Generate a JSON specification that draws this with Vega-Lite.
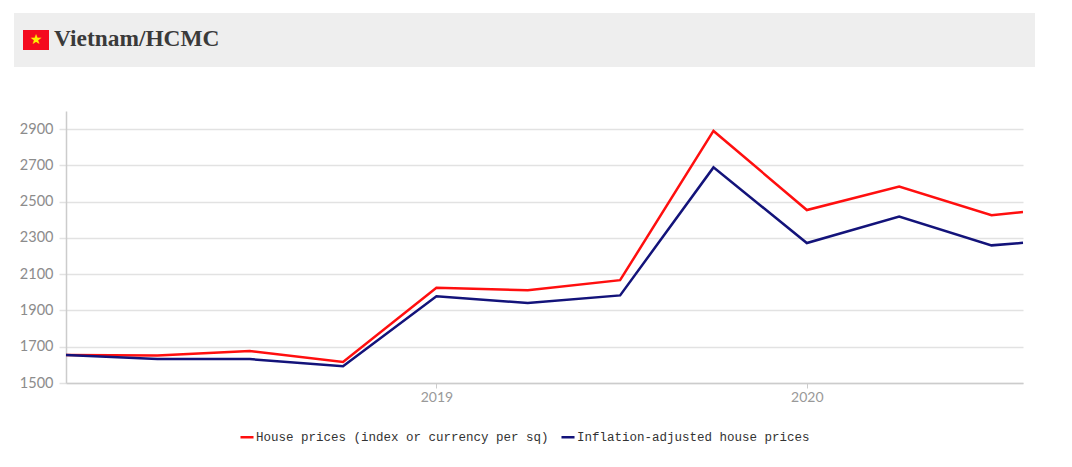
{
  "$schema": "https://vega.github.io/schema/vega-lite/v6.json",
  "width": 957,
  "height": 272,
  "autosize": {"type": "none"},
  "padding": {"left": 66, "top": 111, "right": 49, "bottom": 84},
  "background": "#ffffff",
  "config": {"view": {"stroke": null}},
  "title": {
    "text": "Vietnam/HCMC",
    "anchor": "start",
    "frame": "group",
    "orient": "top",
    "offset": 0,
    "dy": 38,
    "dx": -12,
    "font": "Liberation Serif",
    "fontSize": 23.4,
    "fontWeight": "bold",
    "color": "#3a3a3a"
  },
  "layer": [
    {
      "data": {"values": [{"part": "header"}]},
      "mark": {"type": "rect", "color": "#eeeeee", "x": -52, "x2": 969, "y": -98, "y2": -44}
    },
    {
      "data": {"values": [{"part": "flag"}]},
      "mark": {"type": "rect", "color": "#f40a1e", "x": -43, "x2": -17, "y": -81, "y2": -61}
    },
    {
      "data": {"values": [{"part": "star"}]},
      "mark": {"type": "text", "text": "★", "color": "#ffee00", "font": "DejaVu Sans", "fontSize": 14, "x": -30, "y": -71, "align": "center", "baseline": "middle"}
    },
    {
      "data": {
        "values": [
          {"date": "2018-01-01", "series": "House prices (index or currency per sq)", "price": 1654},
          {"date": "2018-04-01", "series": "House prices (index or currency per sq)", "price": 1652},
          {"date": "2018-07-01", "series": "House prices (index or currency per sq)", "price": 1676},
          {"date": "2018-10-01", "series": "House prices (index or currency per sq)", "price": 1616},
          {"date": "2019-01-01", "series": "House prices (index or currency per sq)", "price": 2025},
          {"date": "2019-04-01", "series": "House prices (index or currency per sq)", "price": 2012},
          {"date": "2019-07-01", "series": "House prices (index or currency per sq)", "price": 2067},
          {"date": "2019-10-01", "series": "House prices (index or currency per sq)", "price": 2890},
          {"date": "2020-01-01", "series": "House prices (index or currency per sq)", "price": 2454},
          {"date": "2020-04-01", "series": "House prices (index or currency per sq)", "price": 2584},
          {"date": "2020-07-01", "series": "House prices (index or currency per sq)", "price": 2425},
          {"date": "2020-08-01", "series": "House prices (index or currency per sq)", "price": 2443},
          {"date": "2018-01-01", "series": "Inflation-adjusted house prices", "price": 1654},
          {"date": "2018-04-01", "series": "Inflation-adjusted house prices", "price": 1632},
          {"date": "2018-07-01", "series": "Inflation-adjusted house prices", "price": 1632},
          {"date": "2018-10-01", "series": "Inflation-adjusted house prices", "price": 1592},
          {"date": "2019-01-01", "series": "Inflation-adjusted house prices", "price": 1978},
          {"date": "2019-04-01", "series": "Inflation-adjusted house prices", "price": 1941},
          {"date": "2019-07-01", "series": "Inflation-adjusted house prices", "price": 1983},
          {"date": "2019-10-01", "series": "Inflation-adjusted house prices", "price": 2689},
          {"date": "2020-01-01", "series": "Inflation-adjusted house prices", "price": 2272},
          {"date": "2020-04-01", "series": "Inflation-adjusted house prices", "price": 2418},
          {"date": "2020-07-01", "series": "Inflation-adjusted house prices", "price": 2259},
          {"date": "2020-08-01", "series": "Inflation-adjusted house prices", "price": 2273}
        ]
      },
      "mark": {"type": "line", "strokeWidth": 2.5, "interpolate": "linear"},
      "encoding": {
        "x": {
          "field": "date",
          "type": "temporal",
          "title": null,
          "scale": {"type": "utc", "domain": ["2018-01-01", "2020-08-01"]},
          "axis": {
            "values": [{"year": 2019, "month": 1, "date": 1, "utc": true}, {"year": 2020, "month": 1, "date": 1, "utc": true}],
            "format": "%Y",
            "formatType": "utc",
            "grid": false,
            "domainColor": "#cccccc",
            "domainWidth": 1.5,
            "tickColor": "#cccccc",
            "tickSize": 5,
            "labelFont": "Lato",
            "labelFontSize": 14,
            "labelColor": "#999999",
            "labelPadding": 2
          }
        },
        "y": {
          "field": "price",
          "type": "quantitative",
          "title": null,
          "scale": {"domain": [1500, 3000], "nice": false, "zero": false},
          "axis": {
            "values": [1500, 1700, 1900, 2100, 2300, 2500, 2700, 2900],
            "format": "d",
            "grid": true,
            "gridColor": "#e2e2e2",
            "gridWidth": 1.5,
            "domainColor": "#cccccc",
            "domainWidth": 1.5,
            "tickColor": "#e2e2e2",
            "tickWidth": 1.5,
            "tickSize": 7,
            "labelFont": "Lato",
            "labelFontSize": 14.5,
            "labelColor": "#8c8c8c",
            "labelPadding": 6
          }
        },
        "color": {
          "field": "series",
          "type": "nominal",
          "scale": {
            "domain": ["House prices (index or currency per sq)", "Inflation-adjusted house prices"],
            "range": ["#ff0f0f", "#13137a"]
          },
          "legend": {
            "title": null,
            "orient": "none",
            "legendX": 173,
            "legendY": 318,
            "direction": "horizontal",
            "columns": 2,
            "symbolType": "stroke",
            "symbolSize": 170,
            "symbolStrokeWidth": 2.5,
            "labelFont": "Liberation Mono",
            "labelFontSize": 12.5,
            "labelColor": "#333333",
            "labelOffset": 1,
            "labelLimit": 400,
            "columnPadding": 7
          }
        }
      }
    }
  ]
}
